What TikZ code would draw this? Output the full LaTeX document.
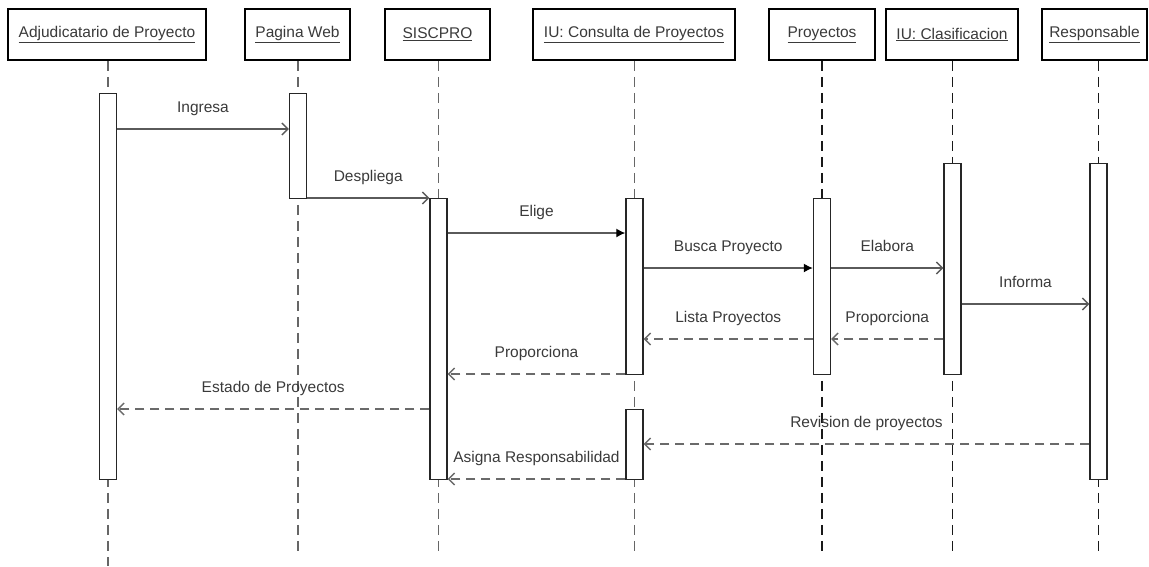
\documentclass[tikz,border=0pt]{standalone}
\usepackage{fontspec}
\setmainfont{Liberation Sans}
\usetikzlibrary{arrows.meta}
\definecolor{txt}{HTML}{3A3A3A}
\definecolor{msgline}{HTML}{5A5A5A}
\definecolor{retline}{HTML}{6A6A6A}
\begin{document}
\begin{tikzpicture}[x=1pt,y=-1pt,
  head/.style={draw=black, line width=1.6pt, fill=white, minimum height=51pt,
    inner sep=0pt, font=\fontsize{15.5}{18}\selectfont, text=txt},
  actbar/.style={draw=black!85, line width=1.4pt, fill=white, minimum width=17pt,
    anchor=north, inner sep=0pt},
  life/.style={draw=black!90, line width=1.7pt, dash pattern=on 10pt off 6pt},
  lifelight/.style={life, draw=black!60, line width=1.4pt},
  call/.style={draw=msgline, line width=1.3pt,
    -{Straight Barb[length=6pt,width=12pt,line width=1.3pt]}},
  sync/.style={draw=msgline, line width=1.3pt,
    -{Latex[length=9pt,width=9pt,fill=black,color=black]}},
  reply/.style={draw=retline, line width=1.6pt, dash pattern=on 9pt off 6pt,
    -{Straight Barb[length=6pt,width=12pt,line width=1.3pt]}},
  lbl/.style={font=\fontsize{15.5}{18}\selectfont, text=txt, inner sep=1pt,
    text height=11pt, text depth=3.5pt, above=11pt, midway}]

\useasboundingbox (0,0) rectangle (1149,566);

% participant heads
\node[head, minimum width=198pt] (hA)  at (107,34.5)    {\underline{Adjudicatario de Proyecto}};
\node[head, minimum width=105pt] (hP)  at (297.5,34.5)  {\underline{Pagina Web}};
\node[head, minimum width=105pt] (hS)  at (437.5,34.5)  {\underline{SISCPRO}};
\node[head, minimum width=202pt] (hC)  at (634,34.5)    {\underline{IU: Consulta de Proyectos}};
\node[head, minimum width=106pt] (hPr) at (822,34.5)    {\underline{Proyectos}};
\node[head, minimum width=132pt] (hCl) at (952,34.5)    {\underline{IU: Clasificacion}};
\node[head, minimum width=105pt] (hR)  at (1094.5,34.5) {\underline{Responsable}};

% lifelines
\coordinate (xA)  at (108,0);
\coordinate (xP)  at (298,0);
\coordinate (xS)  at (438.5,0);
\coordinate (xC)  at (634.5,0);
\coordinate (xPr) at (822,0);
\coordinate (xCl) at (952.5,0);
\coordinate (xR)  at (1098.5,0);
\coordinate (bot) at (0,556);
\draw[lifelight] (hA.south -| xA) -- (xA |- 0,566);
\draw[lifelight] (hP.south -| xP) -- (xP |- bot);
\draw[lifelight] (hS.south -| xS) -- (xS |- bot);
\draw[lifelight] (hC.south -| xC) -- (xC |- bot);
\draw[life] (hPr.south -| xPr) -- (xPr |- bot);
\draw[life] (hCl.south -| xCl) -- (xCl |- bot);
\draw[life] (hR.south -| xR) -- (xR |- bot);

% activation bars
\node[actbar, minimum height=386pt] (abar)  at (108,93)    {};
\node[actbar, minimum height=105pt] (pbar)  at (298,93)    {};
\node[actbar, minimum height=281pt] (sbar)  at (438.5,198) {};
\node[actbar, minimum height=176pt] (cbar)  at (634.5,198) {};
\node[actbar, minimum height=70pt]  (cbar2) at (634.5,409) {};
\node[actbar, minimum height=176pt] (prbar) at (822,198)   {};
\node[actbar, minimum height=211pt] (clbar) at (952.5,163) {};
\node[actbar, minimum height=316pt] (rbar)  at (1098.5,163){};

% messages
\draw[call]  (abar.east |- 0,129)  -- (pbar.west |- 0,129)   node[lbl] {Ingresa};
\draw[call]  (pbar.east |- 0,198)  -- (sbar.west |- 0,198)   node[lbl] {Despliega};
\draw[sync]  (sbar.east |- 0,233)  -- (cbar.west |- 0,233)   node[lbl] {Elige};
\draw[sync]  (cbar.east |- 0,268)  -- (prbar.west |- 0,268)  node[lbl] {Busca Proyecto};
\draw[call]  (prbar.east |- 0,268) -- (clbar.west |- 0,268)  node[lbl] {Elabora};
\draw[call]  (clbar.east |- 0,304) -- (rbar.west |- 0,304)   node[lbl] {Informa};
\draw[reply] (clbar.west |- 0,339) -- (prbar.east |- 0,339)  node[lbl] {Proporciona};
\draw[reply] (prbar.west |- 0,339) -- (cbar.east |- 0,339)   node[lbl] {Lista Proyectos};
\draw[reply] (cbar.west |- 0,374)  -- (sbar.east |- 0,374)   node[lbl] {Proporciona};
\draw[reply] (sbar.west |- 0,409)  -- (abar.east |- 0,409)   node[lbl] {Estado de Proyectos};
\draw[reply] (rbar.west |- 0,444)  -- (cbar2.east |- 0,444)  node[lbl] {Revision de proyectos};
\draw[reply] (cbar2.west |- 0,479) -- (sbar.east |- 0,479)   node[lbl] {Asigna Responsabilidad};

\end{tikzpicture}
\end{document}
